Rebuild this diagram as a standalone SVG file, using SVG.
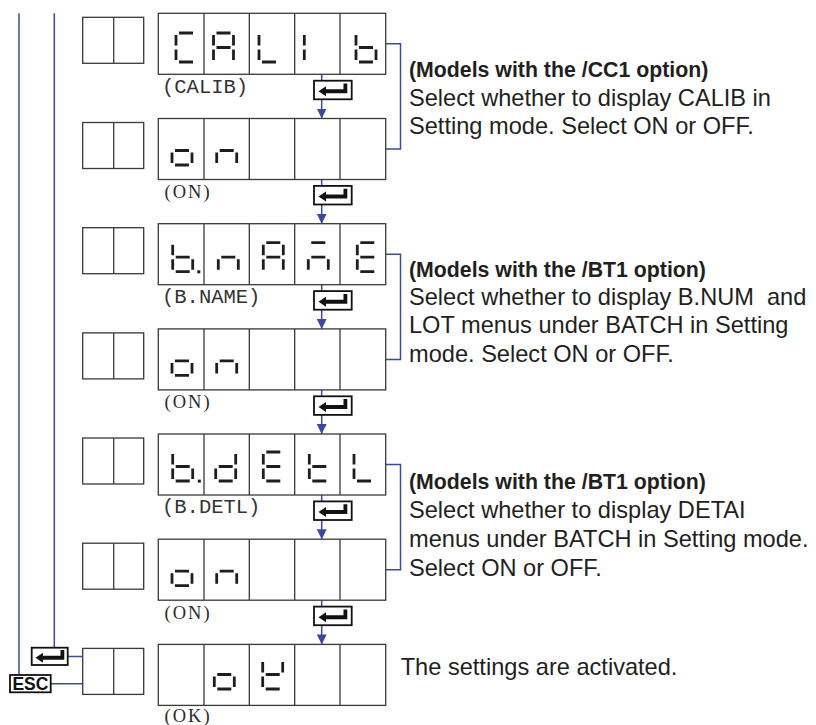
<svg xmlns="http://www.w3.org/2000/svg" width="816" height="725" viewBox="0 0 816 725">
<style>
.disp{fill:#fff;stroke:#3a3a3a;stroke-width:1.3}
.div{stroke:#3a3a3a;stroke-width:1.3}
.small{fill:#fff;stroke:#3a3a3a;stroke-width:1.3}
.seg{fill:none;stroke:#1e1e1e;stroke-width:2.8;stroke-linecap:butt}
.dot{fill:#1e1e1e}
.conn{fill:none;stroke:#3b48a6;stroke-width:1.5}
.key{fill:#fff;stroke:#111;stroke-width:1.8}
.kg{fill:#111}
.mono{font-family:"Liberation Mono","DejaVu Sans Mono",monospace;font-size:20.5px;fill:#333}
.ser{font-family:"Liberation Serif","DejaVu Serif",serif;font-size:18.5px;letter-spacing:2px;fill:#2a2a2a}
.t{font-family:"Liberation Sans",Arial,Helvetica,sans-serif;font-size:23.6px;fill:#231f20}
.tb{font-family:"Liberation Sans",Arial,Helvetica,sans-serif;font-size:21.3px;font-weight:bold;fill:#231f20}
.esc{font-family:"Liberation Sans",Arial,Helvetica,sans-serif;font-size:17.5px;font-weight:bold;fill:#111;text-anchor:middle}
</style>
<defs>
<marker id="ah" viewBox="0 0 10 10" refX="10" refY="5" markerWidth="10" markerHeight="10" markerUnits="userSpaceOnUse" orient="auto">
<path d="M0,0 L10,5 L0,10 Z" fill="#3b48a6"/>
</marker>
<path id="eg" class="kg" d="M4.5,10.6 L12,5.6 L12,8.6 L29.5,8.6 L29.5,2.8 L33.3,2.8 L33.3,12.6 L12,12.6 L12,15.6 Z"/>
<g id="cells">
<rect class="disp" x="158.3" y="0" width="227.4" height="61"/>
<path class="div" d="M204,0V61 M249.3,0V61 M294.7,0V61 M340,0V61"/>
</g>
<g id="sbox">
<rect class="small" x="82.7" y="0" width="61" height="46"/>
<path class="div" d="M113.7,0V46"/>
</g>
</defs>

<g id="connectors">
<path class="conn" d="M19,13.3V675 M50.7,683.7H82.7"/>
<path class="conn" d="M54.3,13.3V647.7 M67.7,656.4H82.7"/>
<path class="conn" d="M321.7,74.3V118.5" marker-end="url(#ah)"/>
<path class="conn" d="M321.7,179.5V223.7" marker-end="url(#ah)"/>
<path class="conn" d="M321.7,284.7V328.9" marker-end="url(#ah)"/>
<path class="conn" d="M321.7,389.9V434" marker-end="url(#ah)"/>
<path class="conn" d="M321.7,495V539.2" marker-end="url(#ah)"/>
<path class="conn" d="M321.7,600.2V644.4" marker-end="url(#ah)"/>
<path class="conn" d="M385.7,43.8H400.5V149H385.7"/>
<path class="conn" d="M385.7,254.2H400.5V359.4H385.7"/>
<path class="conn" d="M385.7,464.5H400.5V569.7H385.7"/>
</g>

<g id="row1-calib">
<use href="#sbox" y="17.3"/>
<use href="#cells" y="13.3"/>
<path class="seg" d="M179,33H193 M179,62H193 M176,49.5V60 M176,35V45.5
M216.5,33H230.5 M233.5,35V45.5 M233.5,49.5V60 M213.5,49.5V60 M213.5,35V45.5 M216.5,47.5H230.5
M262,62H276 M259,49.5V60 M259,35V45.5
M304.3,49.5V60 M304.3,35V45.5
M376,49.5V60 M359,62H373 M356,49.5V60 M356,35V45.5 M359,47.5H373"/>
<text class="mono" x="162" y="92.7">(CALIB)</text>
</g>

<g id="row2-on">
<use href="#sbox" y="122.5"/>
<use href="#cells" y="118.5"/>
<path class="seg" d="M192,152.5V163 M175,165H189 M172,152.5V163 M175,150.5H189
M236.7,152.5V163 M216.7,152.5V163 M219.7,150.5H233.7"/>
<text class="ser" x="164.5" y="197.9">(ON)</text>
</g>

<g id="row3-bname">
<use href="#sbox" y="227.7"/>
<use href="#cells" y="223.7"/>
<path class="seg" d="M192.7,259.2V269.7 M175.7,271.7H189.7 M172.7,259.2V269.7 M172.7,244.7V255.2 M175.7,257.2H189.7
M238.3,259.2V269.7 M218.3,259.2V269.7 M221.3,257.2H235.3
M266.3,242.7H280.3 M283.3,244.7V255.2 M283.3,259.2V269.7 M263.3,259.2V269.7 M263.3,244.7V255.2 M266.3,257.2H280.3
M311.3,242.7H325.3 M328.3,259.2V269.7 M308.3,259.2V269.7 M311.3,257.2H325.3
M360.3,242.7H374.3 M360.3,271.7H374.3 M357.3,259.2V269.7 M357.3,244.7V255.2 M360.3,257.2H374.3"/>
<rect class="dot" x="197.3" y="270.3" width="3" height="3"/>
<text class="mono" x="162" y="303.1">(B.NAME)</text>
</g>

<g id="row4-on">
<use href="#sbox" y="332.9"/>
<use href="#cells" y="328.9"/>
<path class="seg" d="M192,362.9V373.4 M175,375.4H189 M172,362.9V373.4 M175,360.9H189
M236.7,362.9V373.4 M216.7,362.9V373.4 M219.7,360.9H233.7"/>
<text class="ser" x="164.5" y="408.3">(ON)</text>
</g>

<g id="row5-bdetl">
<use href="#sbox" y="438"/>
<use href="#cells" y="434"/>
<path class="seg" d="M192.7,468.5V479 M175.7,481H189.7 M172.7,468.5V479 M172.7,454V464.5 M175.7,466.5H189.7
M235.7,454V464.5 M235.7,468.5V479 M218.7,481H232.7 M215.7,468.5V479 M218.7,466.5H232.7
M266.3,452H280.3 M266.3,481H280.3 M263.3,468.5V479 M263.3,454V464.5 M266.3,466.5H280.3
M312.3,481H326.3 M309.3,468.5V479 M309.3,454V464.5 M312.3,466.5H326.3
M357,481H371 M354,468.5V479 M354,454V464.5"/>
<rect class="dot" x="197.8" y="479.6" width="3" height="3"/>
<text class="mono" x="162" y="513.4">(B.DETL)</text>
</g>

<g id="row6-on">
<use href="#sbox" y="543.2"/>
<use href="#cells" y="539.2"/>
<path class="seg" d="M192,573.2V583.7 M175,585.7H189 M172,573.2V583.7 M175,571.2H189
M236.7,573.2V583.7 M216.7,573.2V583.7 M219.7,571.2H233.7"/>
<text class="ser" x="164.5" y="618.6">(ON)</text>
</g>

<g id="row7-ok">
<use href="#sbox" y="648.4"/>
<use href="#cells" y="644.4"/>
<path class="seg" d="M234.3,676.5V687 M217.3,689H231.3 M214.3,676.5V687 M217.3,674.5H231.3
M282.7,662V672.5 M265.7,689H279.7 M262.7,676.5V687 M262.7,662V672.5 M265.7,674.5H279.7"/>
<text class="ser" x="164.5" y="722">(OK)</text>
</g>

<g id="enter-keys">
<g id="key1"><rect class="key" x="314" y="80.7" width="37.7" height="18.6"/><use href="#eg" x="314" y="80.7"/></g>
<g id="key2"><rect class="key" x="314" y="185.9" width="37.7" height="18.6"/><use href="#eg" x="314" y="185.9"/></g>
<g id="key3"><rect class="key" x="314" y="291.1" width="37.7" height="18.6"/><use href="#eg" x="314" y="291.1"/></g>
<g id="key4"><rect class="key" x="314" y="396.3" width="37.7" height="18.6"/><use href="#eg" x="314" y="396.3"/></g>
<g id="key5"><rect class="key" x="314" y="501.4" width="37.7" height="18.6"/><use href="#eg" x="314" y="501.4"/></g>
<g id="key6"><rect class="key" x="314" y="606.6" width="37.7" height="18.6"/><use href="#eg" x="314" y="606.6"/></g>
<g id="key-left"><rect class="key" x="31.7" y="647.7" width="36" height="17.3"/><use href="#eg" x="31" y="647.2"/></g>
</g>

<g id="esc-key">
<rect class="key" x="10" y="675" width="40.7" height="17.3"/>
<text class="esc" x="30.4" y="690">ESC</text>
</g>

<g id="note-cc1">
<text class="tb" x="409" y="77">(Models with the /CC1 option)</text>
<text class="t" x="409" y="106">Select whether to display CALIB in</text>
<text class="t" x="409" y="134">Setting mode. Select ON or OFF.</text>
</g>

<g id="note-bt1-name">
<text class="tb" x="409" y="277">(Models with the /BT1 option)</text>
<text class="t" x="409" y="305">Select whether to display B.NUM&#160; and</text>
<text class="t" x="409" y="333">LOT menus under BATCH in Setting</text>
<text class="t" x="409" y="362">mode. Select ON or OFF.</text>
</g>

<g id="note-bt1-detl">
<text class="tb" x="409" y="489">(Models with the /BT1 option)</text>
<text class="t" x="409" y="518">Select whether to display DETAI</text>
<text class="t" x="409" y="547">menus under BATCH in Setting mode.</text>
<text class="t" x="409" y="576">Select ON or OFF.</text>
</g>

<g id="note-ok">
<text class="t" x="400.7" y="675">The settings are activated.</text>
</g>
</svg>
